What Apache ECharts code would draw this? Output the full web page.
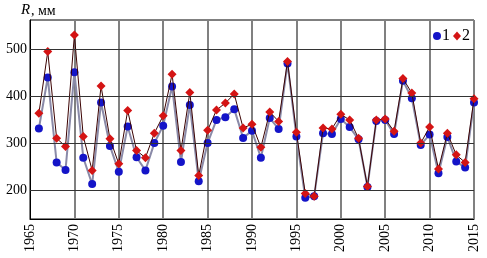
<!DOCTYPE html>
<html>
<head>
<meta charset="utf-8">
<script src="https://cdn.jsdelivr.net/npm/echarts@6/dist/echarts.min.js"></script>
<style>
  html, body { margin: 0; padding: 0; background: #fff; }
  #chart { width: 487px; height: 258px; }
</style>
</head>
<body>
<div id="chart"></div>
<script>
// years and precipitation sums (mm)
var years = [1966, 1967, 1968, 1969, 1970, 1971, 1972, 1973, 1974, 1975,
    1976, 1977, 1978, 1979, 1980, 1981, 1982, 1983, 1984, 1985,
    1986, 1987, 1988, 1989, 1990, 1991, 1992, 1993, 1994, 1995,
    1996, 1997, 1998, 1999, 2000, 2001, 2002, 2003, 2004, 2005,
    2006, 2007, 2008, 2009, 2010, 2011, 2012, 2013, 2014, 2015];
var series1 = [332, 440, 260, 244, 451, 270, 214, 387, 295, 240,
    336, 271, 243, 301, 338, 421, 261, 382, 220, 301,
    350, 356, 373, 312, 327, 270, 354, 331, 470, 315,
    185, 188, 322, 320, 352, 335, 309, 208, 348, 350,
    320, 433, 396, 297, 319, 237, 314, 262, 249, 387];
var series2 = [364, 495, 311, 294, 530, 315, 243, 422, 310, 257,
    370, 285, 270, 322, 359, 447, 285, 408, 232, 328,
    371, 386, 405, 333, 341, 292, 367, 347, 474, 324,
    194, 188, 333, 331, 362, 350, 311, 209, 350, 352,
    326, 438, 407, 301, 335, 246, 322, 276, 260, 395];
var xTicks = [1965, 1970, 1975, 1980, 1985, 1990, 1995, 2000, 2005, 2010, 2015];
var yTicks = [200, 300, 400, 500];

var chart = echarts.init(document.getElementById('chart'));
var serifFont = '14px "Liberation Serif", serif';
var blue = '#1414c8';
var red = '#d41414';

function pairs (vals) {
    return years.map(function (y, i) { return [y, vals[i]]; });
}

var option = {
    animation: false,
    grid: {
        left: 30,
        right: 13,
        top: 20,
        bottom: 39,
        show: true,
        borderColor: '#000',
        borderWidth: 1
    },
    xAxis: {
        type: 'value',
        min: 1965,
        max: 2015,
        interval: 5,
        axisLine: { lineStyle: { color: '#000' } },
        axisTick: { show: false },
        axisLabel: { show: false },
        splitLine: { show: true, lineStyle: { color: '#808080', width: 2 } }
    },
    yAxis: {
        type: 'value',
        min: 140,
        max: 562,
        axisLine: { show: true, lineStyle: { color: '#000' } },
        axisTick: { show: false },
        axisLabel: { show: false },
        splitLine: { show: false }
    },
    series: [
        {
            name: '1',
            type: 'line',
            data: pairs(series1),
            symbol: 'circle',
            symbolSize: 8,
            itemStyle: { color: blue },
            lineStyle: { color: '#8a8aa8', width: 2 },
            markLine: {
                silent: true,
                symbol: 'none',
                label: { show: false },
                lineStyle: { color: '#333', width: 1, type: 'solid' },
                data: yTicks.map(function (v) { return { yAxis: v }; })
            },
            z: 3
        },
        {
            name: '2',
            type: 'line',
            data: pairs(series2),
            symbol: 'diamond',
            symbolSize: 9,
            itemStyle: { color: red },
            lineStyle: { color: '#3a0000', width: 1 },
            z: 4
        }
    ]
};
chart.setOption(option);

// tick labels in serif, placed through the chart's own scales
var labels = [];
xTicks.forEach(function (x) {
    var p = chart.convertToPixel({ gridIndex: 0 }, [x, 140]);
    labels.push({
        type: 'text',
        x: p[0],
        y: p[1] + 5,
        rotation: Math.PI / 2,
        style: { text: String(x), font: serifFont, fill: '#000', align: 'right', verticalAlign: 'middle' }
    });
});
yTicks.forEach(function (v) {
    var p = chart.convertToPixel({ gridIndex: 0 }, [1965, v]);
    labels.push({
        type: 'text',
        x: p[0] - 3,
        y: p[1],
        style: { text: String(v), font: serifFont, fill: '#000', align: 'right', verticalAlign: 'middle' }
    });
});
labels.push({
    type: 'text',
    x: 21,
    y: 3,
    style: { text: 'R', font: 'italic 15px "Liberation Serif", serif', fill: '#000' }
});
labels.push({
    type: 'text',
    x: 31,
    y: 4,
    style: { text: ', мм', font: serifFont, fill: '#000' }
});

// legend in the top-right corner of the plot
var corner = chart.convertToPixel({ gridIndex: 0 }, [2015, 562]);
var ly = corner[1] + 16;
labels.push({
    type: 'circle',
    shape: { cx: corner[0] - 37, cy: ly, r: 4 },
    style: { fill: blue }
});
labels.push({
    type: 'text',
    x: corner[0] - 32,
    y: ly,
    style: { text: '1', font: '16px "Liberation Serif", serif', fill: '#000', verticalAlign: 'middle' }
});
labels.push({
    type: 'polygon',
    shape: { points: [[corner[0] - 17, ly - 4.5], [corner[0] - 13, ly], [corner[0] - 17, ly + 4.5], [corner[0] - 21, ly]] },
    style: { fill: red }
});
labels.push({
    type: 'text',
    x: corner[0] - 12,
    y: ly,
    style: { text: '2', font: '16px "Liberation Serif", serif', fill: '#000', verticalAlign: 'middle' }
});
chart.setOption({ graphic: labels });
</script>
</body>
</html>
